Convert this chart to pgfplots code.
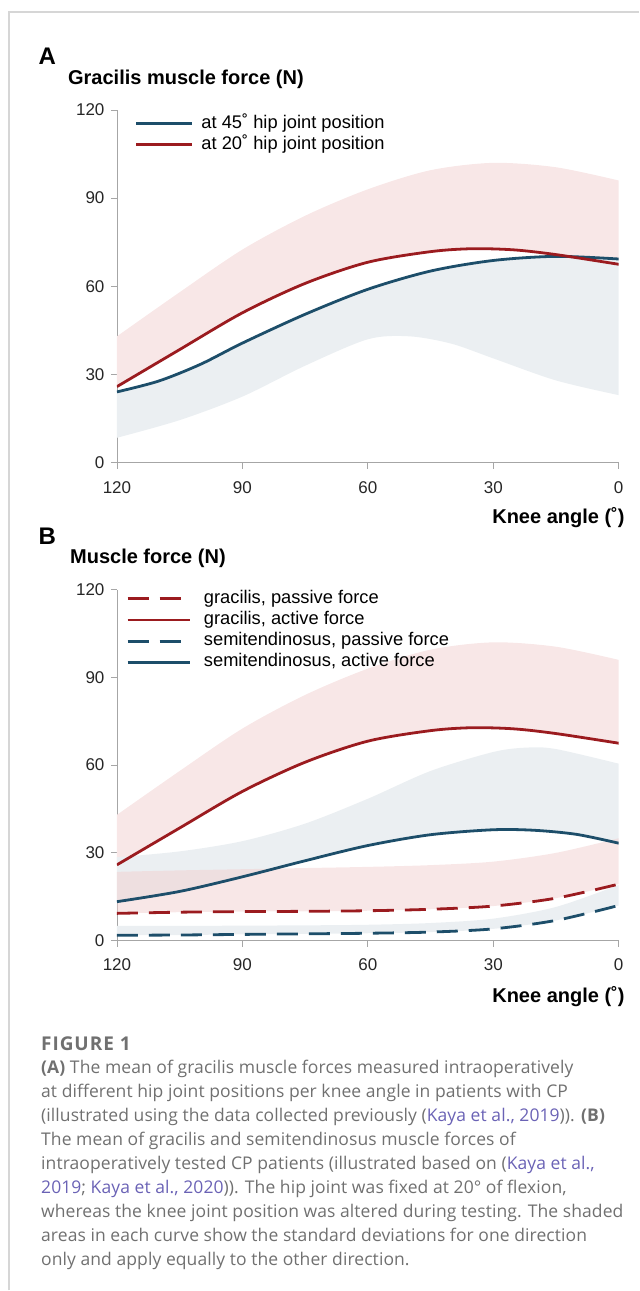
\documentclass[border=0pt]{standalone}
\usepackage{fontspec}
\setmainfont{Liberation Sans}
\newfontfamily\capfont{Open Sans}
\usepackage{pgfplots}
\pgfplotsset{compat=1.18}
\usepgfplotslibrary{fillbetween}
\definecolor{redline}{HTML}{9B1B1F}
\definecolor{blueline}{HTML}{1D4E6A}
\definecolor{pinkband}{HTML}{F8E7E7}
\definecolor{pinkover}{HTML}{F2D0D0}
\definecolor{blueband}{HTML}{EBEFF2}
\definecolor{axisgray}{HTML}{A6A6A6}
\definecolor{framegray}{HTML}{D6D6D6}
\definecolor{captext}{HTML}{707070}
\definecolor{caplink}{HTML}{6A62B5}
\pgfplotsset{
  kstyle/.style={
    scale only axis, width=502pt,
    xmin=0, xmax=120, x dir=reverse, ymin=0, ymax=120,
    xtick={0,30,60,90,120}, ytick={0,30,60,90,120},
    axis x line=bottom, axis y line=left,
    axis line style={draw=axisgray, line width=0.8pt, -},
    tick style={draw=axisgray, line width=0.8pt},
    tick align=outside, major tick length=6pt,
    tick label style={font=\fontsize{17}{17}\selectfont, text=black!85},
    xticklabel style={yshift=-9pt},
    yticklabel style={xshift=-3pt},
    /pgf/number format/assume math mode=true,
    legend cell align=left,
    legend style={draw=none, fill=none, inner sep=0pt, row sep=1.2pt,
      font=\fontsize{18.3}{18.3}\selectfont,
      nodes={inner sep=2pt, text height=12.5pt, text depth=3.5pt}},
  },
  mline/.style={line width=2.8pt, smooth},
  dline/.style={line width=2.8pt, smooth, dash pattern=on 21pt off 11pt},
}
\begin{document}
\begin{tikzpicture}[x=1pt,y=1pt]
\path (0,0) rectangle (639,1291);
\draw[framegray, line width=1.2pt] (9,0) -- (9,1279) -- (639,1279);

% ---------- Panel A ----------
\node[anchor=base west, font=\fontsize{24}{24}\selectfont\bfseries] at (35,1226) {A};
\node[anchor=base west, font=\fontsize{20}{20}\selectfont\bfseries, inner sep=0pt] at (68,1206) {Gracilis muscle force (N)};
\begin{axis}[kstyle, at={(117pt,828pt)}, anchor=south west, height=353pt,
  legend style={at={(0.035,0.99)}, anchor=north west,
    /tikz/every odd column/.append style={column sep=6pt}},
  legend image code/.code={\draw[#1] (0pt,0pt) -- (56pt,0pt);}]
\addplot[name path=rAu, draw=none, smooth, forget plot] coordinates {(120,43) (105,58) (90,72.5) (75,84) (60,93) (45,99.5) (30,102) (15,100.5) (0,96)};
\addplot[name path=rAm, draw=none, smooth, forget plot] coordinates {(120,25.9) (105,38.5) (90,51) (75,61) (60,68.2) (45,71.8) (35,72.8) (25,72.4) (15,70.8) (0,67.5)};
\addplot[name path=bAm, draw=none, smooth, forget plot] coordinates {(120,24.1) (110,27.8) (100,33.5) (90,40.7) (75,50.5) (60,59) (45,65.2) (30,68.8) (15,70.2) (0,69.3)};
\addplot[name path=bAl, draw=none, smooth, forget plot] coordinates {(120,8.5) (105,14.5) (90,22.5) (75,33) (60,42) (50,43) (40,40.5) (30,35.5) (15,28) (0,23)};
\addplot[pinkband, forget plot] fill between[of=rAu and rAm];
\addplot[blueband, forget plot] fill between[of=bAm and bAl];
\addplot[blueline, mline] coordinates {(120,24.1) (110,27.8) (100,33.5) (90,40.7) (75,50.5) (60,59) (45,65.2) (30,68.8) (15,70.2) (0,69.3)};
\addlegendentry{at 45˚ hip joint position}
\addplot[redline, mline] coordinates {(120,25.9) (105,38.5) (90,51) (75,61) (60,68.2) (45,71.8) (35,72.8) (25,72.4) (15,70.8) (0,67.5)};
\addlegendentry{at 20˚ hip joint position}
\end{axis}
\node[anchor=base east, font=\fontsize{20}{20}\selectfont\bfseries, inner sep=0pt] at (625,767) {Knee angle (˚)};

% ---------- Panel B ----------
\node[anchor=base west, font=\fontsize{24}{24}\selectfont\bfseries] at (35,746) {B};
\node[anchor=base west, font=\fontsize{20}{20}\selectfont\bfseries, inner sep=0pt] at (70,727) {Muscle force (N)};
\begin{axis}[kstyle, at={(117pt,350pt)}, anchor=south west, height=351pt,
  legend style={at={(0.018,1.003)}, anchor=north west,
    /tikz/every odd column/.append style={column sep=11pt}},
  legend image code/.code={\draw[#1] (0pt,0pt) -- (62pt,0pt);}]
\addplot[name path=rBu, draw=none, smooth, forget plot] coordinates {(120,43) (105,58) (90,72.5) (75,84) (60,93) (45,99.5) (30,102) (15,100.5) (0,96)};
\addplot[name path=rBm, draw=none, smooth, forget plot] coordinates {(120,25.9) (105,38.5) (90,51) (75,61) (60,68.2) (45,71.8) (35,72.8) (25,72.4) (15,70.8) (0,67.5)};
\addplot[name path=sBm, draw=none, smooth, forget plot] coordinates {(120,13.3) (105,16.8) (90,21.8) (75,27.3) (60,32.5) (45,36.2) (30,37.9) (20,37.7) (10,36.3) (0,33.3)};
\addplot[name path=sBu, draw=none, smooth, forget plot] coordinates {(120,28.5) (105,30.5) (90,34) (75,40) (60,48.5) (45,58) (30,64.5) (22,66) (15,65.5) (0,60.5)};
\addplot[name path=gPm, draw=none, smooth, forget plot] coordinates {(120,9.3) (105,9.7) (90,9.9) (75,10) (60,10.2) (45,10.7) (30,11.8) (15,14.5) (0,19.3)};
\addplot[name path=gPu, draw=none, smooth, forget plot] coordinates {(120,23.5) (105,24) (90,24.4) (75,24.8) (60,25.2) (45,25.8) (30,27) (15,30) (0,35)};
\addplot[name path=sPm, draw=none, smooth, forget plot] coordinates {(120,1.8) (105,1.9) (90,2.1) (75,2.3) (60,2.5) (45,2.9) (30,4) (15,6.9) (0,12)};
\addplot[name path=sPu, draw=none, smooth, forget plot] coordinates {(120,5) (105,5) (90,5.1) (75,5.2) (60,5.4) (45,6) (30,7.5) (15,11.5) (0,19)};
\addplot[pinkband, forget plot] fill between[of=rBu and rBm];
\addplot[blueband, forget plot] fill between[of=sBu and sBm];
\addplot[blueband, forget plot] fill between[of=sPu and sPm];
\addplot[pinkover, fill opacity=0.5, forget plot] fill between[of=gPu and gPm];
\addplot[redline, dline] coordinates {(120,9.3) (105,9.7) (90,9.9) (75,10) (60,10.2) (45,10.7) (30,11.8) (15,14.5) (0,19.3)};
\addlegendentry{gracilis, passive force}
\addplot[redline, mline] coordinates {(120,25.9) (105,38.5) (90,51) (75,61) (60,68.2) (45,71.8) (35,72.8) (25,72.4) (15,70.8) (0,67.5)};
\addlegendentry{gracilis, active force}
\addplot[blueline, dline] coordinates {(120,1.8) (105,1.9) (90,2.1) (75,2.3) (60,2.5) (45,2.9) (30,4) (15,6.9) (0,12)};
\addlegendentry{semitendinosus, passive force}
\addplot[blueline, mline] coordinates {(120,13.3) (105,16.8) (90,21.8) (75,27.3) (60,32.5) (45,36.2) (30,37.9) (20,37.7) (10,36.3) (0,33.3)};
\addlegendentry{semitendinosus, active force}
\end{axis}
\node[anchor=base east, font=\fontsize{20}{20}\selectfont\bfseries, inner sep=0pt] at (625,288) {Knee angle (˚)};

% ---------- Caption ----------
\begin{scope}[every node/.style={anchor=base west, inner sep=0pt, text=captext, font=\capfont\fontsize{17.5}{24}\selectfont\addfontfeature{LetterSpace=0.5}}]
\node[font=\capfont\fontsize{19}{24}\selectfont\bfseries\addfontfeature{LetterSpace=5}] at (41,240) {FIGURE 1};
\node at (41,217) {\textbf{(A)} The mean of gracilis muscle forces measured intraoperatively};
\node at (41,193) {at different hip joint positions per knee angle in patients with CP};
\node at (41,169) {(illustrated using the data collected previously ({\color{caplink}Kaya et al., 2019})). \textbf{(B)}};
\node at (41,145) {The mean of gracilis and semitendinosus muscle forces of};
\node at (41,121) {intraoperatively tested CP patients (illustrated based on ({\color{caplink}Kaya et al.,}};
\node at (41,97) {{\color{caplink}2019}; {\color{caplink}Kaya et al., 2020})). The hip joint was fixed at 20° of flexion,};
\node at (41,73) {whereas the knee joint position was altered during testing. The shaded};
\node at (41,49) {areas in each curve show the standard deviations for one direction};
\node at (41,25) {only and apply equally to the other direction.};
\end{scope}
\end{tikzpicture}
\end{document}
